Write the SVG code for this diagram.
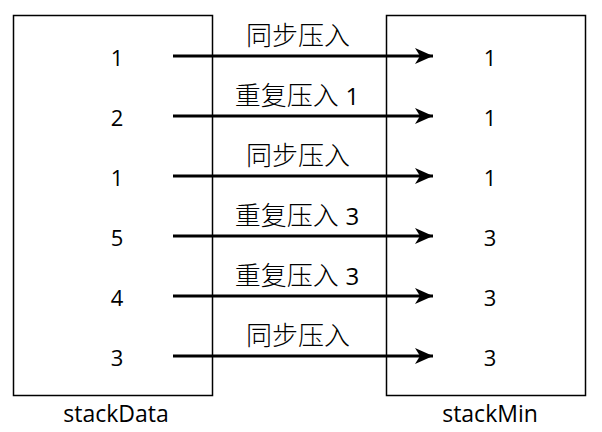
<svg xmlns="http://www.w3.org/2000/svg" width="602" height="432" viewBox="0 0 602 432">
<style>
.box{fill:#fff;stroke:#000;stroke-width:1.5}
.num{font-family:"Open Sans","Noto Sans",sans-serif;font-size:22px;text-anchor:middle;fill:#000}
.lbl{font-family:"Open Sans","Noto Sans CJK SC",sans-serif;font-size:26px;font-weight:300;text-anchor:middle;fill:#000}
.d{font-weight:400;font-size:24px}
.cap{font-family:"Open Sans","Noto Sans",sans-serif;font-size:23px;text-anchor:middle;fill:#000}
.arr{stroke:#000;stroke-width:3;fill:none;marker-end:url(#ah)}
</style>
<defs>
<marker id="ah" markerUnits="userSpaceOnUse" markerWidth="20" markerHeight="18" refX="18" refY="9" orient="auto">
<path d="M0,1 L18,9 L0,17 L5,9 Z" fill="#000"/>
</marker>
</defs>
<rect width="602" height="432" fill="#fff"/>
<g id="stackData">
<rect class="box" x="13.5" y="15.5" width="199" height="380"/>
<text class="num" x="117" y="66">1</text>
<text class="num" x="117" y="126">2</text>
<text class="num" x="117" y="186">1</text>
<text class="num" x="117" y="246">5</text>
<text class="num" x="117" y="306">4</text>
<text class="num" x="117" y="366">3</text>
<text class="cap" x="116" y="422">stackData</text>
</g>
<g id="stackMin">
<rect class="box" x="386.5" y="15.5" width="199" height="380"/>
<text class="num" x="490" y="66">1</text>
<text class="num" x="490" y="126">1</text>
<text class="num" x="490" y="186">1</text>
<text class="num" x="490" y="246">3</text>
<text class="num" x="490" y="306">3</text>
<text class="num" x="490" y="366">3</text>
<text class="cap" x="490" y="422">stackMin</text>
</g>
<g id="connectors">
<line class="arr" x1="173" y1="56" x2="433" y2="56"/>
<line class="arr" x1="173" y1="116" x2="433" y2="116"/>
<line class="arr" x1="173" y1="176" x2="433" y2="176"/>
<line class="arr" x1="173" y1="236" x2="433" y2="236"/>
<line class="arr" x1="173" y1="296" x2="433" y2="296"/>
<line class="arr" x1="173" y1="356" x2="433" y2="356"/>
<text class="lbl" x="298" y="45">同步压入</text>
<text class="lbl" x="297" y="105">重复压入 <tspan class="d">1</tspan></text>
<text class="lbl" x="298" y="165">同步压入</text>
<text class="lbl" x="297" y="225">重复压入 <tspan class="d">3</tspan></text>
<text class="lbl" x="297" y="285">重复压入 <tspan class="d">3</tspan></text>
<text class="lbl" x="298" y="345">同步压入</text>
</g>
</svg>
